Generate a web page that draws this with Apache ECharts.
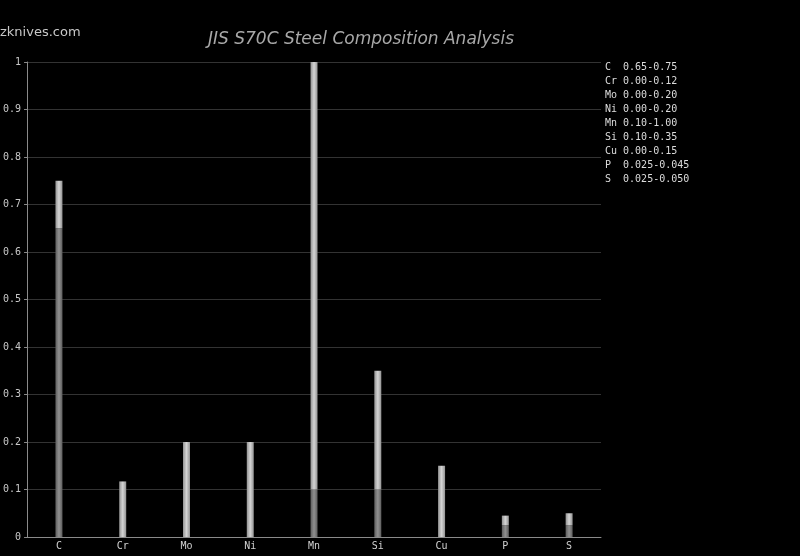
<!DOCTYPE html>
<html><head><meta charset="utf-8">
<script src="https://cdn.jsdelivr.net/npm/echarts@6/dist/echarts.min.js"></script>
<style>html,body{margin:0;padding:0;background:#000;}#c{width:800px;height:556px;}</style>
</head><body><div id="c"></div>
<script>
const categories = ['C','Cr','Mo','Ni','Mn','Si','Cu','P','S'];
const minValues = [0.65, 0, 0, 0, 0.10, 0.10, 0, 0.025, 0.025];
const maxValues = [0.75, 0.117, 0.20, 0.20, 1.00, 0.35, 0.15, 0.045, 0.050];
const rangeLabels = ['0.65-0.75','0.00-0.12','0.00-0.20','0.00-0.20','0.10-1.00','0.10-0.35','0.00-0.15','0.025-0.045','0.025-0.050'];
const yTicks = [0,0.1,0.2,0.3,0.4,0.5,0.6,0.7,0.8,0.9,1];

const chart = echarts.init(document.getElementById('c'));
const grad = (e, c) => new echarts.graphic.LinearGradient(0,0,1,0,[
  {offset:0,color:e},{offset:0.5,color:c},{offset:1,color:e}]);
const legendText = categories.map((c,i)=> (c.padEnd(3,' ')) + rangeLabels[i]).join('\n');
chart.setOption({
  backgroundColor:'#000',
  animation:false,
  title:{text:'JIS S70C Steel Composition Analysis', left:356, top:26, textAlign:'center',
    textStyle:{color:'#a8a8a8', fontStyle:'italic', fontWeight:'normal', fontSize:17, fontFamily:'DejaVu Sans'}},
  graphic:[
    {type:'text', left:0, top:26, style:{text:'zknives.com', fill:'#c8c8c8', font:'13px "DejaVu Sans"'}},
    {type:'text', left:605, top:60, style:{text:legendText, fill:'#dcdcdc', font:'10px "DejaVu Sans Mono"', lineHeight:14}}
  ],
  grid:{left:25, right:199, top:62, bottom:19, containLabel:false},
  xAxis:{type:'category', data:categories,
    axisLine:{lineStyle:{color:'#8a8a8a'}}, axisTick:{show:false},
    axisLabel:{color:'#d0d0d0', fontFamily:'DejaVu Sans Mono', fontSize:10, margin:4}},
  yAxis:{type:'value', min:0, max:1, interval:0.1,
    axisLine:{show:true, lineStyle:{color:'#8a8a8a'}}, axisTick:{show:true, length:3, lineStyle:{color:'#8a8a8a'}},
    splitLine:{lineStyle:{color:'#333'}},
    axisLabel:{color:'#c8c8c8', fontFamily:'DejaVu Sans Mono', fontSize:10, margin:6,
      formatter:v=>{const t=yTicks.find(x=>Math.abs(x-v)<1e-9); return t===undefined?'':String(t);}}},
  series:[
    {type:'bar', stack:'a', barWidth:7, data:minValues,
      itemStyle:{color:grad('#5e5e5e','#909090')}},
    {type:'bar', stack:'a', barWidth:7, data:maxValues.map((v,i)=>+(v-minValues[i]).toFixed(4)),
      itemStyle:{color:grad('#939393','#d4d4d4')}}
  ]
});
</script></body></html>
